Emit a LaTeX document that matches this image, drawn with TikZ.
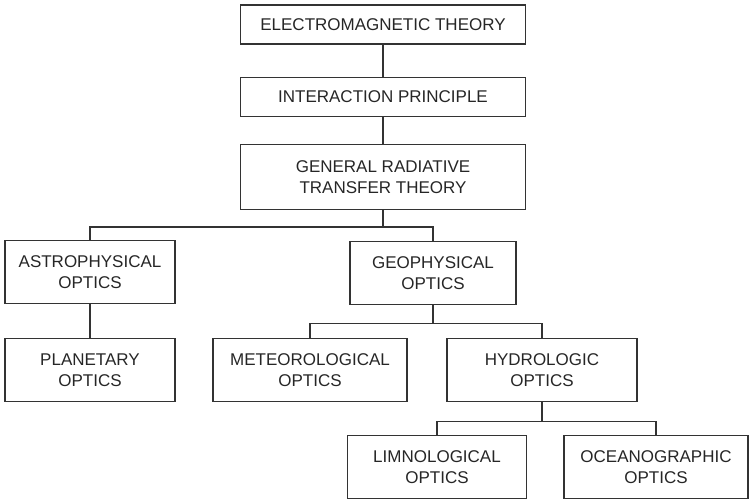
\documentclass[tikz,border=0pt]{standalone}
\usepackage{fontspec}
\setmainfont{Liberation Sans}
\usetikzlibrary{positioning}

\begin{document}
\begin{tikzpicture}[x=1pt,y=-1pt,line width=1.2pt,node distance=32pt,
    box/.style={draw=black!80,align=center,inner sep=2pt,minimum height=63pt,
        font=\fontsize{17}{21}\selectfont,text=black!85},
    wire/.style={draw=black!80}]

        \useasboundingbox (0,0) rectangle (750,501);

        \node[box,minimum width=285pt,minimum height=39pt] (em) at (383,24.5) {ELECTROMAGNETIC THEORY};
        \node[box,minimum width=285pt,minimum height=39pt] (ip) [below=of em] {INTERACTION PRINCIPLE};
        \node[box,minimum width=285pt,minimum height=65pt] (grt) [below=27pt of ip] {GENERAL RADIATIVE\\TRANSFER THEORY};

        \node[box,minimum width=170pt] (astro) at (90,272) {ASTROPHYSICAL\\OPTICS};
        \node[box,minimum width=166pt] (geo) at (433,273) {GEOPHYSICAL\\OPTICS};
        \node[box,minimum width=170pt] (planet) [below=34pt of astro] {PLANETARY\\OPTICS};
        \node[box,minimum width=194pt] (meteo) at (310,370) {METEOROLOGICAL\\OPTICS};
        \node[box,minimum width=190pt] (hydro) at (542,370) {HYDROLOGIC\\OPTICS};
        \node[box,minimum width=179pt] (limno) at (437,467) {LIMNOLOGICAL\\OPTICS};
        \node[box,minimum width=184pt] (ocean) at (656,467) {OCEANOGRAPHIC\\OPTICS};

        \path[wire] (em) -- (ip)
                    (ip) -- (grt)
                    (grt.south) -- ++(0,17) -| (astro.north)
                    (grt.south) -- ++(0,17) -| (geo.north)
                    (astro) -- (planet)
                    (geo.south) -- ++(0,18) -| (meteo.north)
                    (geo.south) -- ++(0,18) -| (hydro.north)
                    (hydro.south) -- ++(0,19) -| (limno.north)
                    (hydro.south) -- ++(0,19) -| (ocean.north);

\end{tikzpicture}
\end{document}
